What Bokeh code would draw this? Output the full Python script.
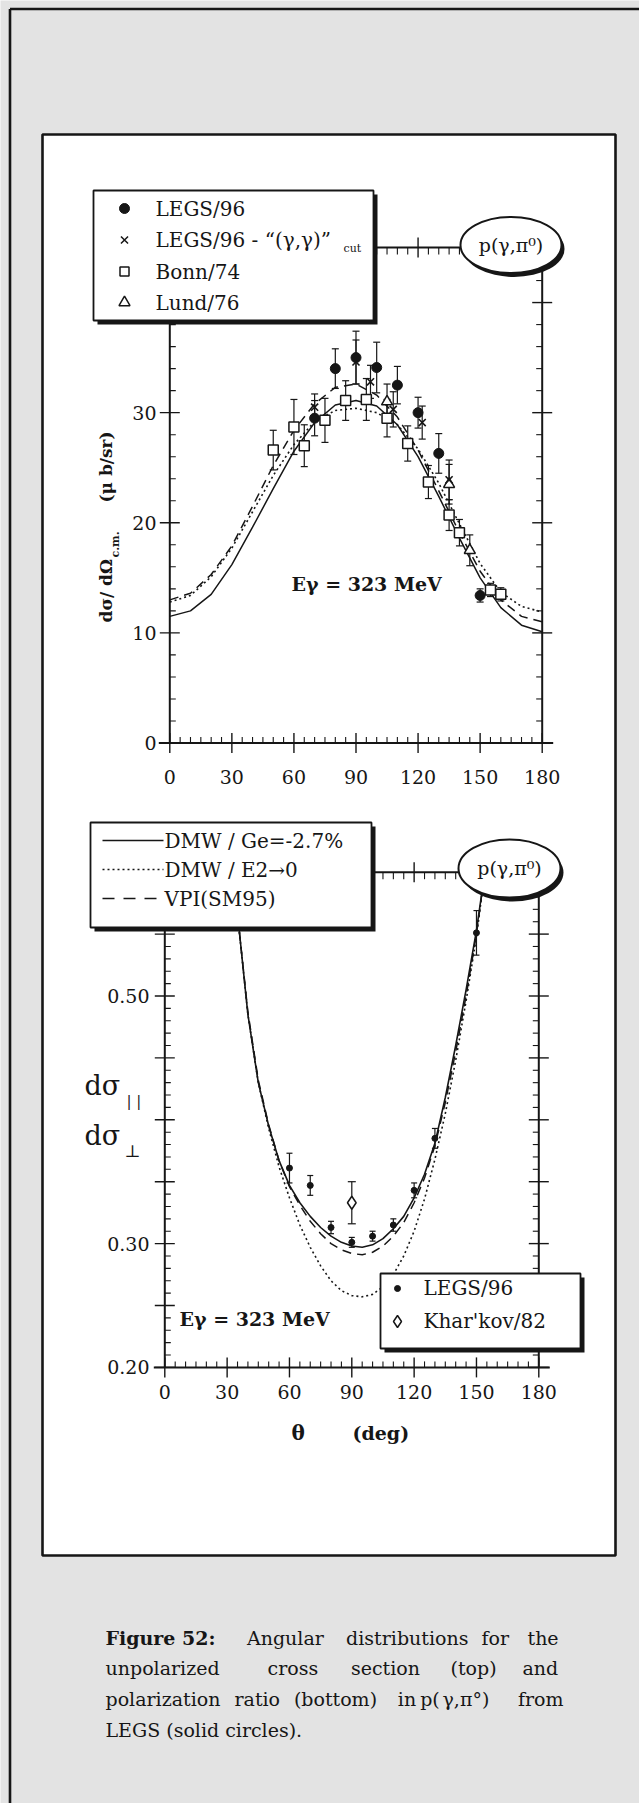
import math
from bokeh.plotting import figure
from bokeh.models import Range1d
from bokeh.core.properties import value
from bokeh.embed import file_html
from bokeh.resources import INLINE

# ---------------- data ----------------
# Top panel: unpolarized cross section dσ/dΩ (μb/sr) versus θ c.m. (deg)
legs96_theta = [70, 80, 90, 100, 110, 120, 130, 150]
legs96_xsec = [29.5, 34.0, 35.0, 34.1, 32.5, 30.0, 26.3, 13.4]
legs96_err = [1.6, 1.8, 2.4, 2.3, 1.7, 1.4, 1.8, 0.6]

legs96cut_theta = [70, 90, 97, 108, 122, 135]
legs96cut_xsec = [30.5, 34.6, 32.8, 30.3, 29.1, 23.9]
legs96cut_err = [1.2, 2.0, 1.5, 1.6, 1.5, 1.8]

bonn74_theta = [50, 60, 65, 75, 85, 95, 105, 115, 125, 135, 140, 155, 160]
bonn74_xsec = [26.6, 28.7, 27.0, 29.3, 31.1, 31.2, 29.5, 27.2, 23.7, 20.7, 19.1, 13.9, 13.5]
bonn74_err = [1.8, 2.5, 1.9, 2.0, 1.8, 1.9, 1.7, 1.6, 1.5, 1.4, 1.2, 0.6, 0.6]

lund76_theta = [105, 135, 145]
lund76_xsec = [31.0, 23.5, 17.5]
lund76_err = [1.6, 1.8, 1.4]

top_curve_theta = [0, 10, 20, 30, 40, 50, 60, 70, 80, 90, 100, 110, 120, 130, 140, 150, 160, 170, 180]
top_dmw_ge = [11.5, 12.0, 13.5, 16.2, 19.6, 23.1, 26.5, 29.1, 30.7, 31.1, 30.6, 28.9, 26.0, 22.4, 18.6, 15.0, 12.3, 10.7, 10.1]
top_dmw_e2 = [12.8, 13.4, 15.1, 17.7, 21.0, 24.3, 27.1, 29.2, 30.2, 30.4, 30.0, 28.9, 26.7, 23.6, 19.9, 16.3, 13.7, 12.4, 11.9]
top_vpi = [13.0, 13.6, 15.3, 17.9, 21.5, 25.2, 28.4, 30.8, 32.3, 32.6, 31.6, 29.6, 26.6, 22.9, 19.1, 15.6, 13.0, 11.5, 11.0]

# Bottom panel: polarization ratio dσ∥/dσ⊥ versus θ c.m. (deg)
legsb_theta = [60, 70, 80, 90, 100, 110, 120, 130, 150]
legsb_ratio = [0.361, 0.347, 0.313, 0.301, 0.306, 0.315, 0.343, 0.385, 0.551]
legsb_err = [0.012, 0.008, 0.005, 0.004, 0.004, 0.005, 0.006, 0.008, 0.018]

kharkov_theta = [90]
kharkov_ratio = [0.333]
kharkov_err = [0.017]

bot_curve_theta = [33, 36, 40, 45, 50, 55, 60, 65, 70, 75, 80, 85, 90, 95, 100, 105, 110,
                   115, 120, 125, 130, 135, 140, 145, 150, 154]
bot_dmw_ge = [0.60, 0.55, 0.485, 0.43, 0.395, 0.367, 0.347, 0.333, 0.322, 0.313, 0.306, 0.301,
              0.298, 0.297, 0.299, 0.304, 0.312, 0.322, 0.337, 0.356, 0.381, 0.418, 0.46, 0.505,
              0.553, 0.60]
bot_dmw_e2 = [0.60, 0.55, 0.485, 0.43, 0.393, 0.362, 0.337, 0.315, 0.297, 0.282, 0.27, 0.262,
              0.258, 0.257, 0.259, 0.265, 0.275, 0.29, 0.31, 0.336, 0.368, 0.405, 0.448, 0.496,
              0.548, 0.60]
bot_vpi = [0.60, 0.55, 0.487, 0.432, 0.396, 0.367, 0.346, 0.331, 0.318, 0.308, 0.300, 0.295,
           0.292, 0.291, 0.293, 0.298, 0.306, 0.317, 0.333, 0.353, 0.379, 0.414, 0.455, 0.50,
           0.55, 0.60]

# tick values / labels
x_major = [0, 30, 60, 90, 120, 150, 180]
x_labels = ["0", "30", "60", "90", "120", "150", "180"]
x_minor = [v for v in range(0, 181, 5) if v % 30]
top_y_major = [0, 10, 20, 30, 40]
top_y_labels = ["0", "10", "20", "30", ""]
top_y_minor = [v for v in range(0, 46, 2) if v % 10]
bot_y_major = [0.20, 0.25, 0.30, 0.35, 0.40, 0.45, 0.50, 0.55, 0.60]
bot_y_labels = ["0.20", "", "0.30", "", "", "", "0.50", "", ""]
bot_y_minor = [round(0.20 + 0.01 * i, 2) for i in range(41) if i % 5]

# ---------------- page geometry ----------------
W, H = 639, 1803
SERIF = value("DejaVu Serif")
INK = "#161616"
PAGE = "#e3e3e3"
DOT = "2 3"
DASH = "9 6"

p = figure(width=W, height=H, x_range=Range1d(0, W), y_range=Range1d(H, 0),
           x_axis_type=None, y_axis_type=None, min_border=0,
           toolbar_location=None, output_backend="svg")
p.outline_line_color = None
p.background_fill_color = PAGE
p.border_fill_color = PAGE


def x_range_for(px_a, px_b, va, vb):
    s = (px_b - px_a) / (vb - va)
    return Range1d(va - px_a / s, va + (W - px_a) / s)


def y_range_for(px_a, px_b, va, vb):
    s = (px_a - px_b) / (vb - va)
    return Range1d(va - (H - px_a) / s, va + px_a / s)


# panel frames (pixels from top-left)
T_L, T_R, T_B, T_T = 169.3, 541.7, 742.5, 247.0
B_L, B_R, B_B, B_T = 164.3, 538.3, 1366.9, 871.7

p.extra_x_ranges = {"tx": x_range_for(T_L, T_R, 0, 180), "bx": x_range_for(B_L, B_R, 0, 180)}
p.extra_y_ranges = {"ty": y_range_for(T_B, T_T, 0, 45), "by": y_range_for(B_B, B_T, 0.20, 0.60)}

# outer frame and inner white box
p.segment(x0=[9.5, 9.5], y0=[8.5, 8.5], x1=[W + 5, 9.5], y1=[8.5, H + 5],
          line_color=INK, line_width=2.6)
p.quad(left=[42], right=[615], top=[134], bottom=[1555], fill_color="white",
       line_color=INK, line_width=2.6)


def text(x, y, s, size, style="normal", align="left", baseline="middle", angle=0.0, **kw):
    p.text(x=[x], y=[y], text=[s], text_font=SERIF, text_font_size=value(size),
           text_font_style=value(style), text_align=value(align),
           text_baseline=value(baseline), text_color=INK, angle=angle, **kw)


def axes(xn, yn, L, R, B, T, y_major, y_minor, y_labels, xlab_y, ylab_x):
    lw_ax, lw_tk = 2.0, 1.4
    # frame lines
    p.segment(x0=[L - 11, L, R, L], y0=[B, T, T, T], x1=[R + 11, L, R, R], y1=[B, B, B, T],
              line_color=INK, line_width=lw_ax)
    # x ticks (bottom & top)
    p.segment(x0=x_major, y0=[B - 10] * 7, x1=x_major, y1=[B + 10] * 7,
              line_color=INK, line_width=lw_tk, x_range_name=xn)
    p.segment(x0=x_minor, y0=[B - 6] * len(x_minor), x1=x_minor, y1=[B] * len(x_minor),
              line_color=INK, line_width=1.1, x_range_name=xn)
    p.segment(x0=x_major, y0=[T - 10] * 7, x1=x_major, y1=[T + 10] * 7,
              line_color=INK, line_width=lw_tk, x_range_name=xn)
    p.segment(x0=x_minor, y0=[T] * len(x_minor), x1=x_minor, y1=[T + 7] * len(x_minor),
              line_color=INK, line_width=1.1, x_range_name=xn)
    # y ticks (left & right)
    n, m = len(y_major), len(y_minor)
    for X, d in ((L, 1), (R, -1)):
        p.segment(x0=[X - 10] * n, y0=y_major, x1=[X + 10] * n, y1=y_major,
                  line_color=INK, line_width=lw_tk, y_range_name=yn)
        p.segment(x0=[X] * m, y0=y_minor, x1=[X + 6 * d] * m, y1=y_minor,
                  line_color=INK, line_width=1.1, y_range_name=yn)
    # tick labels
    p.text(x=x_major, y=[xlab_y] * 7, text=x_labels, text_font=SERIF,
           text_font_size=value("19px"), text_align=value("center"),
           text_baseline=value("middle"), text_color=INK, x_range_name=xn)
    p.text(x=[ylab_x] * n, y=y_major, text=y_labels, text_font=SERIF,
           text_font_size=value("19px"), text_align=value("right"),
           text_baseline=value("middle"), text_color=INK, y_range_name=yn)


def errbars(theta, val, err, xn, yn, cap=7, lw=1.2):
    lo = [v - e for v, e in zip(val, err)]
    hi = [v + e for v, e in zip(val, err)]
    p.segment(x0=theta, y0=lo, x1=theta, y1=hi, line_color=INK, line_width=lw,
              x_range_name=xn, y_range_name=yn)
    p.scatter(list(theta) + list(theta), lo + hi, marker="dash", size=cap, line_color=INK,
              line_width=lw, x_range_name=xn, y_range_name=yn)


# ================= TOP PANEL =================
axes("tx", "ty", T_L, T_R, T_B, T_T, top_y_major, top_y_minor, top_y_labels, T_B + 34, 156)

p.line(top_curve_theta, top_dmw_ge, line_color=INK, line_width=1.5, x_range_name="tx", y_range_name="ty")
p.line(top_curve_theta, top_dmw_e2, line_color=INK, line_width=1.6, line_dash=DOT,
       x_range_name="tx", y_range_name="ty")
p.line(top_curve_theta, top_vpi, line_color=INK, line_width=1.5, line_dash=DASH,
       x_range_name="tx", y_range_name="ty")

errbars(bonn74_theta, bonn74_xsec, bonn74_err, "tx", "ty")
errbars(lund76_theta, lund76_xsec, lund76_err, "tx", "ty")
errbars(legs96cut_theta, legs96cut_xsec, legs96cut_err, "tx", "ty")
errbars(legs96_theta, legs96_xsec, legs96_err, "tx", "ty")

p.scatter(bonn74_theta, bonn74_xsec, marker="square", size=10, fill_color="white",
          line_color=INK, line_width=1.5, x_range_name="tx", y_range_name="ty")
p.scatter(lund76_theta, lund76_xsec, marker="triangle", size=11, fill_color="white",
          line_color=INK, line_width=1.5, x_range_name="tx", y_range_name="ty")
p.scatter(legs96cut_theta, legs96cut_xsec, marker="x", size=10,
          line_color=INK, line_width=1.6, x_range_name="tx", y_range_name="ty")
p.scatter(legs96_theta, legs96_xsec, marker="circle", size=10, fill_color=INK,
          line_color=INK, x_range_name="tx", y_range_name="ty")

# top legend box with shadow
p.quad(left=[97], right=[377], top=[194], bottom=[324], fill_color=INK, line_color=None)
p.quad(left=[93], right=[373], top=[190], bottom=[320], fill_color="white",
       line_color=INK, line_width=1.8)
ly = [208, 239.5, 271, 302]
p.scatter([124], [ly[0]], marker="circle", size=10, fill_color=INK, line_color=INK)
p.scatter([124], [ly[1]], marker="x", size=10, line_color=INK, line_width=1.5)
p.scatter([124], [ly[2]], marker="square", size=9, fill_color="white", line_color=INK, line_width=1.5)
p.scatter([124], [ly[3]], marker="triangle", size=11, fill_color="white", line_color=INK, line_width=1.5)
text(155, ly[0], "LEGS/96", "20px")
text(155, ly[1], "LEGS/96 - \u201c(\u03b3,\u03b3)\u201d", "20px")
text(343, ly[1] + 8, "cut", "11px")
text(155, ly[2], "Bonn/74", "20px")
text(155, ly[3], "Lund/76", "20px")

# reaction ellipse
p.ellipse(x=[513.5], y=[248.5], width=[101], height=[56], fill_color=INK, line_color=None)
p.ellipse(x=[510.5], y=[244.5], width=[101], height=[56], fill_color="white",
          line_color=INK, line_width=2)
text(510.5, 244, "p(\u03b3,\u03c0\u2070)", "19px", align="center")

text(291, 583, "E\u03b3 = 323 MeV", "19px", style="bold")

# rotated y label
text(105, 622, "d\u03c3/ d\u03a9", "17px", style="bold", angle=math.pi / 2)
text(115, 557, "c.m.", "11px", style="bold", angle=math.pi / 2)
text(105, 502, "(\u03bc b/sr)", "17px", style="bold", angle=math.pi / 2)

# ================= BOTTOM PANEL =================
axes("bx", "by", B_L, B_R, B_B, B_T, bot_y_major, bot_y_minor, bot_y_labels, B_B + 25, 149)

p.line(bot_curve_theta, bot_dmw_e2, line_color=INK, line_width=1.6, line_dash=DOT,
       x_range_name="bx", y_range_name="by")
p.line(bot_curve_theta, bot_vpi, line_color=INK, line_width=1.5, line_dash=DASH,
       x_range_name="bx", y_range_name="by")
p.line(bot_curve_theta, bot_dmw_ge, line_color=INK, line_width=1.6,
       x_range_name="bx", y_range_name="by")

errbars(legsb_theta, legsb_ratio, legsb_err, "bx", "by", cap=6)
errbars(kharkov_theta, kharkov_ratio, kharkov_err, "bx", "by", cap=8)
p.scatter(kharkov_theta, kharkov_ratio, marker="diamond", size=13, fill_color="white",
          line_color=INK, line_width=1.5, x_range_name="bx", y_range_name="by")
p.scatter(legsb_theta, legsb_ratio, marker="circle", size=6, fill_color=INK,
          line_color=INK, x_range_name="bx", y_range_name="by")

# curve legend (upper left)
p.quad(left=[94], right=[375], top=[826], bottom=[931], fill_color=INK, line_color=None)
p.quad(left=[90], right=[371], top=[822], bottom=[927], fill_color="white",
       line_color=INK, line_width=1.8)
cy = [840, 869, 898]
p.segment(x0=[102], y0=[cy[0]], x1=[163], y1=[cy[0]], line_color=INK, line_width=1.5)
p.segment(x0=[102], y0=[cy[1]], x1=[163], y1=[cy[1]], line_color=INK, line_width=1.6, line_dash=DOT)
p.segment(x0=[102], y0=[cy[2]], x1=[163], y1=[cy[2]], line_color=INK, line_width=1.5, line_dash="12 9")
text(164, cy[0], "DMW / Ge=-2.7%", "20px")
text(164, cy[1], "DMW / E2\u21920", "20px")
text(164, cy[2], "VPI(SM95)", "20px")

# data legend (lower right)
p.quad(left=[384], right=[584], top=[1277], bottom=[1352], fill_color=INK, line_color=None)
p.quad(left=[380], right=[580], top=[1273], bottom=[1348], fill_color="white",
       line_color=INK, line_width=1.8)
p.scatter([397], [1288], marker="circle", size=6, fill_color=INK, line_color=INK)
p.scatter([397], [1321], marker="diamond", size=12, fill_color="white", line_color=INK, line_width=1.5)
text(423, 1287, "LEGS/96", "20px")
text(423, 1320, "Khar'kov/82", "20px")

# reaction ellipse
p.ellipse(x=[512], y=[872], width=[102], height=[58], fill_color=INK, line_color=None)
p.ellipse(x=[509], y=[868], width=[102], height=[58], fill_color="white",
          line_color=INK, line_width=2)
text(509, 867, "p(\u03b3,\u03c0\u2070)", "19px", align="center")

text(179, 1318, "E\u03b3 = 323 MeV", "19px", style="bold")

# ratio label
text(84, 1085, "d\u03c3", "27px")
text(126, 1100, "| |", "15px")
text(84, 1135, "d\u03c3", "27px")
text(124, 1150, "\u22a5", "17px")

# x label
text(291, 1432, "\u03b8", "20px", style="bold")
text(305, 1454, "c.m.", "12px", style="bold")
p.quad(left=[298], right=[345], top=[1451], bottom=[1468], fill_color="white", line_color=None)
text(352, 1432, "(deg)", "19px", style="bold")

# ================= CAPTION =================
caption = [
    (1637, [("Figure 52:", 105, "bold"), ("Angular", 246.5, "normal"), ("distributions", 345.6, "normal"),
            ("for", 481, "normal"), ("the", 527, "normal")]),
    (1667, [("unpolarized", 105, "normal"), ("cross", 267, "normal"), ("section", 350.4, "normal"),
            ("(top)", 450, "normal"), ("and", 522, "normal")]),
    (1698, [("polarization", 105, "normal"), ("ratio", 234, "normal"), ("(bottom)", 293.4, "normal"),
            ("in", 397.3, "normal"), ("p(", 419.7, "normal"), ("\u03b3,\u03c0\u00b0)", 442, "normal"),
            ("from", 517.5, "normal")]),
    (1729, [("LEGS (solid circles).", 105, "normal")]),
]
for yy, words in caption:
    for w, xx, st in words:
        text(xx, yy, w, "19px", style=st)

open("out.html", "w").write(file_html(p, INLINE))
